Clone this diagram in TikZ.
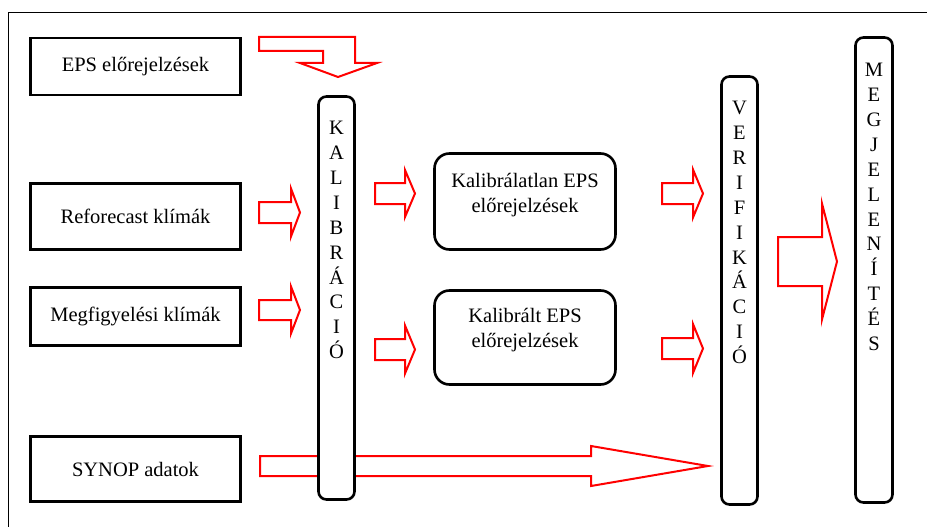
\documentclass[tikz,border=0pt]{standalone}
\usepackage{fontspec}
\setmainfont{Liberation Serif}
\newcommand{\blockarr}[6]{\draw[redarrow] (#1,#4-#5) -- (#2,#4-#5) -- (#2,#4-#6) -- (#3,#4) -- (#2,#4+#6) -- (#2,#4+#5) -- (#1,#4+#5) -- cycle;}
\begin{document}
\begin{tikzpicture}[x=1pt,y=-1pt,
  txt/.style={font=\fontsize{20.5}{24.9}\selectfont},
  sqbox/.style={draw, line width=2.6pt, fill=white, inner sep=0pt, txt},
  rbox/.style={draw, line width=2.6pt, fill=white, inner sep=0pt, rounded corners=8pt},
  midbox/.style={draw, line width=2.6pt, fill=white, inner sep=0pt, rounded corners=15pt},
  vtext/.style={txt, align=center, inner sep=0pt, anchor=north},
  redarrow/.style={draw=red, line width=2pt, fill=white, line join=miter}]
\useasboundingbox (0,0) rectangle (927,527);
\fill[white] (0,0) rectangle (927,527);
% outer frame (only top and left visible)
\draw[line width=1pt] (8,527) -- (8,13) -- (927,13);

% long SYNOP arrow (behind the Kalibracio box)
\blockarr{260}{591}{708}{466}{10}{20}

% left boxes
\node[sqbox, minimum width=210, minimum height=57] (eps) at (135.5,66.5) {EPS előrejelzések};
\node[sqbox, minimum width=210, minimum height=66] (refo) at (135.5,216.5) {Reforecast klímák};
\node[sqbox, minimum width=210, minimum height=58] (megf) at (135.5,316.5) {Megfigyelési klímák};
\node[sqbox, minimum width=210, minimum height=65] (synop) at (135.5,469) {SYNOP adatok};

% vertical rounded boxes
\node[rbox, minimum width=36, minimum height=403] (kal) at (336.5,298) {};
\node[rbox, minimum width=36, minimum height=428] (ver) at (739.5,290.5) {};
\node[rbox, minimum width=37, minimum height=465] (megj) at (874,270) {};
\node[vtext] (kaltext) at (336.5,121) {K\\A\\L\\I\\B\\R\\Á\\C\\I\\Ó};
\node[vtext] (vertext) at (739.5,101) {V\\E\\R\\I\\F\\I\\K\\Á\\C\\I\\Ó};
\node[vtext] (megjtext) at (874,63) {M\\E\\G\\J\\E\\L\\E\\N\\Í\\T\\É\\S};

% middle rounded boxes
\node[midbox, minimum width=181, minimum height=96] (unc) at (525,201.5) {};
\node[txt, align=center, inner sep=0pt] (unctext) at (525,195) {Kalibrálatlan EPS\\előrejelzések};
\node[midbox, minimum width=181, minimum height=94] (cal) at (525,337.5) {};
\node[txt, align=center, inner sep=0pt] (caltext) at (525,330) {Kalibrált EPS\\előrejelzések};

% bent arrow from EPS to Kalibracio
\draw[redarrow] (259,37) -- (355,37) -- (355,63) -- (377,63) -- (338,77) -- (300,63) -- (323,63) -- (323,51) -- (259,51) -- cycle;

% small arrows
\blockarr{259}{291}{300}{212.5}{10.5}{24}
\blockarr{259}{291}{300}{310}{10}{23.5}
\blockarr{375}{405}{415}{193.5}{10.5}{23.5}
\blockarr{375}{405}{415}{349.5}{10.5}{24}
\blockarr{662}{693}{703}{193.5}{10.5}{24}
\blockarr{662}{693}{703}{348.5}{10.5}{24.5}
% big arrow to Megjelenites
\blockarr{778}{822}{837}{261.5}{24.5}{58}
\end{tikzpicture}
\end{document}
